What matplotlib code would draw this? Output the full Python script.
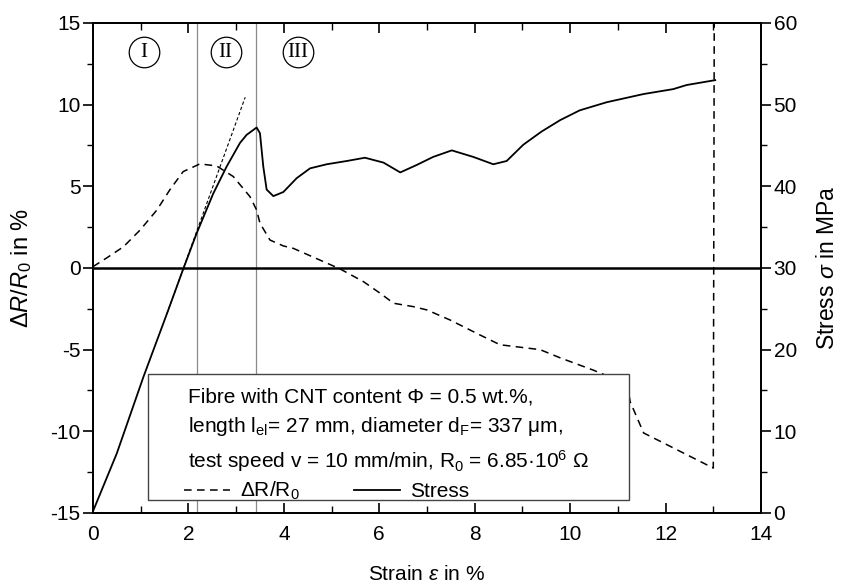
import matplotlib
matplotlib.use("Agg")
import matplotlib.pyplot as plt
from matplotlib.patches import Rectangle

plt.rcParams['font.family'] = ['Liberation Sans', 'DejaVu Sans']
plt.rcParams['mathtext.fontset'] = 'custom'
plt.rcParams['mathtext.rm'] = 'Liberation Sans'
plt.rcParams['mathtext.it'] = 'Liberation Sans:italic'
plt.rcParams['axes.unicode_minus'] = False

# Change of resistance dR/R0 in % (left axis)
strain_dr = [0.0, 0.28, 0.64, 0.99, 1.34, 1.61, 1.89, 2.24, 2.59, 2.94, 3.29,
             3.43, 3.50, 3.71, 3.99, 4.20, 4.83, 5.18, 5.67, 6.02, 6.30, 6.72,
             7.0, 7.48, 8.11, 8.53, 9.37, 9.79, 10.49, 11.19, 11.26, 11.54,
             13.0, 13.02]
dr = [0.08, 0.6, 1.3, 2.33, 3.55, 4.78, 5.9, 6.37, 6.25, 5.6, 4.37,
      3.55, 2.74, 1.71, 1.35, 1.2, 0.39, -0.06, -0.84, -1.55, -2.16, -2.37,
      -2.57, -3.18, -4.1, -4.7, -5.0, -5.5, -6.26, -7.1, -8.2, -10.1,
      -12.25, 15]

# Stress in MPa (right axis)
strain_s = [0, 0.5, 1.06, 1.55, 1.9, 2.17, 2.52, 2.8, 3.08, 3.22, 3.43, 3.50,
            3.57, 3.64, 3.78, 3.99, 4.27, 4.55, 4.90, 5.32, 5.70, 6.09, 6.44,
            6.78, 7.13, 7.52, 7.97, 8.39, 8.67, 9.02, 9.40, 9.79, 10.2, 10.77,
            11.54, 12.16, 12.44, 13.04]
stress = [0.2, 7.3, 16.7, 24.4, 30.0, 34.2, 39.1, 42.4, 45.3, 46.3, 47.2, 46.5,
          42.4, 39.6, 38.8, 39.3, 41.0, 42.2, 42.7, 43.1, 43.5, 42.9, 41.7,
          42.6, 43.6, 44.4, 43.6, 42.7, 43.1, 45.1, 46.7, 48.1, 49.3, 50.3,
          51.3, 51.9, 52.4, 53.0]

# tangent to the elastic part
tangent_strain = [1.55, 3.19]
tangent_stress = [24.4, 50.9]

# region borders and labels
region_borders = [2.18, 3.42]
region_x = [1.07, 2.78, 4.29]
region_y = [13.2, 13.2, 13.2]
region_labels = ['I', 'II', 'III']

fig = plt.figure(figsize=(8.45, 5.86), dpi=100)
ax = fig.add_axes([0.110, 0.1246, 0.7906, 0.8362])
ax2 = ax.twinx()

# left axis: dR/R0
ax.axhline(0, color='black', lw=1.8, zorder=2)
for b in region_borders:
    ax.axvline(b, color='#8a8a8a', lw=0.9, zorder=1)
l_dr, = ax.plot(strain_dr, dr, color='black', lw=1.1, ls=(0, (5, 3.5)),
                label=r'ΔR/R$_0$')

ax.plot(region_x, region_y, 'o', ms=22, mfc='none', mec='black', mew=0.9)
for x, y, t in zip(region_x, region_y, region_labels):
    ax.text(x, y, t, ha='center', va='center', fontsize=15,
            family='Liberation Serif')

ax.set_xlim(0, 14)
ax.set_ylim(-15, 15)
ax.set_xticks(range(0, 15, 2))
ax.set_xticks(range(0, 15), minor=True)
ax.set_yticks(range(-15, 16, 5))
ax.set_yticks([-12.5, -7.5, -2.5, 2.5, 7.5, 12.5], minor=True)
ax.tick_params(axis='x', which='both', direction='in', top=True, labelsize=15)
ax.tick_params(axis='x', which='major', length=7, width=1.2, pad=9)
ax.tick_params(axis='x', which='minor', length=5, width=1.0)
ax.tick_params(axis='y', which='both', direction='out', labelsize=15)
ax.tick_params(axis='y', which='major', length=7, width=1.2, pad=2)
ax.tick_params(axis='y', which='minor', length=4.5, width=1.0)
ax.set_xlabel(r'Strain $\mathit{ε}$ in %', fontsize=15, labelpad=15)
ax.set_ylabel(r'$\mathit{ΔR/R_0}$ in %', fontsize=17, labelpad=12)

# right axis: stress
ax2.plot(tangent_strain, tangent_stress, color='black', lw=0.8,
         ls=(0, (3, 2)))
l_s, = ax2.plot(strain_s, stress, color='black', lw=1.3, label='Stress')
ax2.set_ylim(0, 60)
ax2.set_yticks(range(0, 61, 10))
ax2.set_yticks(range(5, 60, 10), minor=True)
ax2.tick_params(axis='y', which='both', direction='out', labelsize=15)
ax2.tick_params(axis='y', which='major', length=7, width=1.2, pad=2)
ax2.tick_params(axis='y', which='minor', length=4.5, width=1.0)
ax2.set_ylabel(r'Stress $\mathit{σ}$ in MPa', fontsize=16.5, labelpad=14)

for a in (ax, ax2):
    for s in a.spines.values():
        s.set_linewidth(1.3)

# info box
ax2.add_patch(Rectangle((0.082, 0.027), 0.720, 0.257, transform=ax2.transAxes,
                        facecolor='white', edgecolor='#444444', lw=1.0,
                        zorder=5))
info = ('Fibre with CNT content Φ = 0.5 wt.%,\n'
        r'length l$_{\mathrm{el}}$= 27 mm, diameter d$_{\mathrm{F}}$= 337 μm,' '\n'
        r'test speed v = 10 mm/min, R$_0$ = 6.85·10$^6$ Ω')
ax2.text(0.142, 0.256, info, transform=ax2.transAxes, ha='left', va='top',
         fontsize=15, linespacing=1.5, zorder=6)
leg = ax2.legend(handles=[l_dr, l_s], loc='lower left',
                 bbox_to_anchor=(0.136, 0.022), ncol=2, frameon=False,
                 fontsize=15, handlelength=2.2, handletextpad=0.5,
                 columnspacing=2.6, borderpad=0, borderaxespad=0)
leg.set_zorder(7)

fig.savefig('out.png', dpi=100)
